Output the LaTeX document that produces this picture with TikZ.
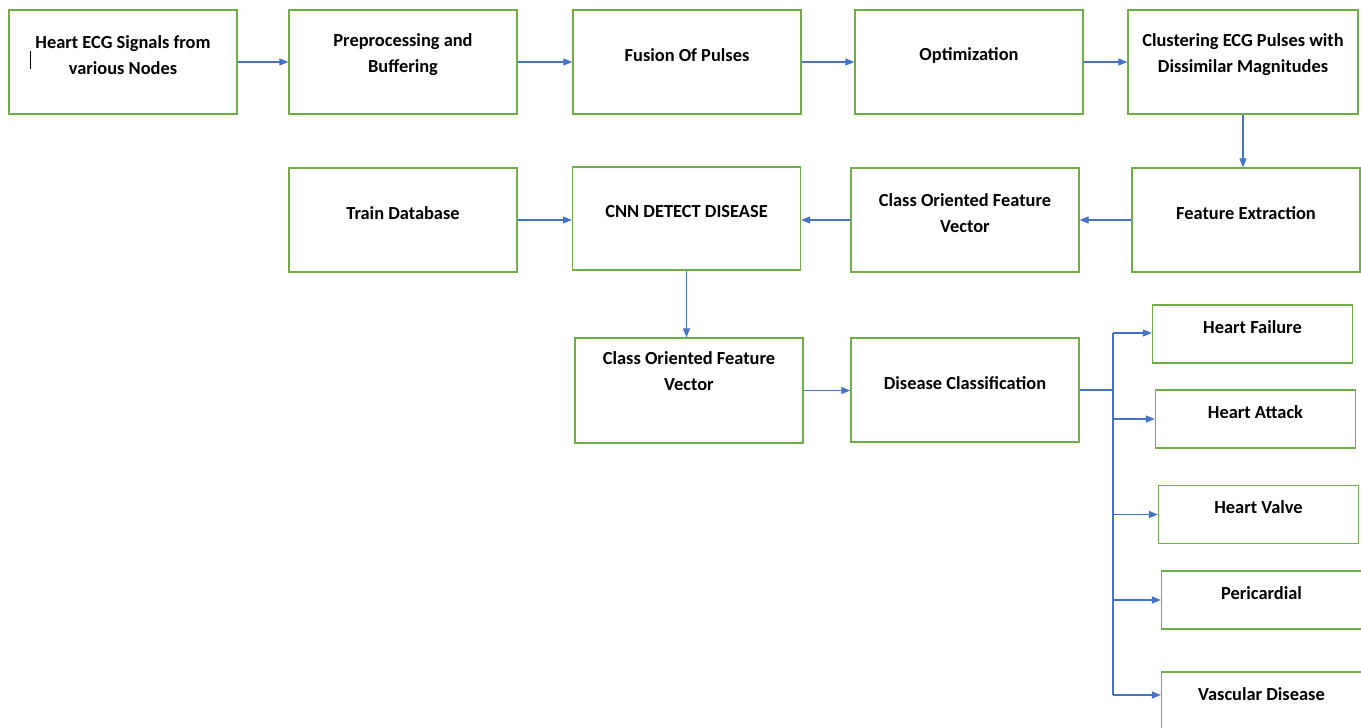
\documentclass[tikz,border=0pt]{standalone}
\usepackage{fontspec}
\setmainfont{Carlito}
\usetikzlibrary{arrows.meta}

\definecolor{boxgreen}{RGB}{112,173,71}
\definecolor{flowblue}{RGB}{68,114,196}

\begin{document}
\begin{tikzpicture}[
    x=1pt, y=-1pt,
    every node/.style = {align=center, font=\fontsize{18.4}{26}\selectfont\bfseries},
    boxn/.style       = {draw=boxgreen, line width=1.3pt, fill=white,
                         minimum width=228pt, minimum height=104pt,
                         inner sep=0pt},
    outn/.style       = {boxn, minimum width=200pt, minimum height=58pt},
    lbl/.style        = {yshift=7pt, inner sep=0pt},
    flowln/.style     = {draw=flowblue, line width=1.2pt,
                         -{Triangle[length=9pt,width=7pt]}},
    busln/.style      = {draw=flowblue, line width=1.2pt}]

    \useasboundingbox (0,0) rectangle (1361,728);

    % First row
    \node[boxn, label={[lbl]center:Heart ECG Signals from\\various Nodes}] (ecg) at (123,62) {};
    \node[boxn, label={[lbl]center:Preprocessing and\\Buffering}] (prep) at (403,62) {};
    \node[boxn, label={[lbl]center:Fusion Of Pulses}] (fusion) at (687,62) {};
    \node[boxn, label={[lbl]center:Optimization}] (optim) at (969,62) {};
    \node[boxn, minimum width=230pt,
          label={[lbl]center:Clustering ECG Pulses with\\Dissimilar Magnitudes}] (clust) at (1243,62) {};

    % Second row
    \node[boxn, label={[lbl]center:Train Database}] (train) at (403,220) {};
    \node[boxn, minimum height=103pt, label={[lbl]center:CNN DETECT DISEASE}] (cnn) at (686.5,218.5) {};
    \node[boxn, label={[lbl]center:Class Oriented Feature\\Vector}] (cofv1) at (965,220) {};
    \node[boxn, label={[lbl]center:Feature Extraction}] (feat) at (1246,220) {};

    % Third row
    \node[boxn, minimum height=105pt, label={[lbl, yshift=12pt]center:Class Oriented Feature\\Vector}] (cofv2) at (689,390.5) {};
    \node[boxn, label={[lbl]center:Disease Classification}] (dclass) at (965,390) {};

    % Outcomes
    \node[outn, label={[lbl]center:Heart Failure}] (hfail) at (1252.5,334) {};
    \node[outn, label={[lbl]center:Heart Attack}] (hattack) at (1255.5,419) {};
    \node[outn, label={[lbl]center:Heart Valve}] (hvalve) at (1258.5,514.5) {};
    \node[outn, label={[lbl]center:Pericardial}] (peri) at (1261.5,600) {};
    \node[outn, label={[lbl]center:Vascular Disease}] (vasc) at (1261.5,701) {};

    % cursor mark
    \draw[line width=1pt] (30,51) -- (30,69);

    % Edges
    \draw[flowln] (ecg) -- (prep);
    \draw[flowln] (prep) -- (fusion);
    \draw[flowln] (fusion) -- (optim);
    \draw[flowln] (optim) -- (clust);
    \draw[flowln] (clust) -- (clust |- feat.north);
    \draw[flowln] (feat) -- (cofv1);
    \draw[flowln] (cofv1) -- (cofv1 -| cnn.east);
    \draw[flowln] (train) -- (train -| cnn.west);
    \draw[flowln] (cnn.south) -- (cnn.south |- cofv2.north);
    \draw[flowln] (cofv2) -- (cofv2 -| dclass.west);

    % Bus to outcomes
    \coordinate (bus) at (1113,390);
    \coordinate (bustop) at (1113,333);
    \coordinate (busbot) at (1113,695);
    \draw[busln] (dclass.east |- bus) -- (bus);
    \draw[busln] (bustop) -- (busbot);
    \draw[flowln] (bustop) -- (hfail.west |- bustop);
    \draw[flowln] (bus |- hattack.west) -- (hattack.west);
    \draw[flowln] (bus |- hvalve.west) -- (hvalve.west);
    \draw[flowln] (bus |- peri.west) -- (peri.west);
    \draw[flowln] (busbot) -- (vasc.west |- busbot);
  \end{tikzpicture}
\end{document}
